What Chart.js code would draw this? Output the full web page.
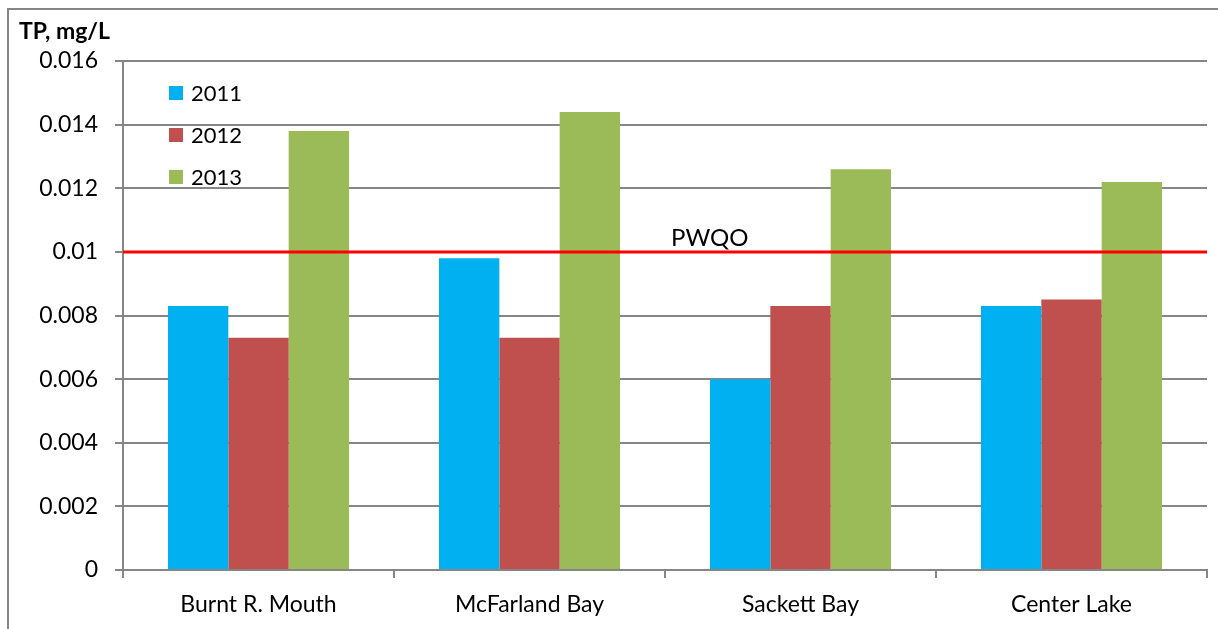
<!DOCTYPE html>
<html lang="en">
<head>
  <meta charset="UTF-8" />
  <title>TP, mg/L</title>
  <script src="https://cdn.jsdelivr.net/npm/chart.js"></script>
  <style>
    html, body {
      margin: 0;
      padding: 0;
      background: #ffffff;
      overflow: hidden;
    }
  </style>
</head>
<body>
  <canvas id="tpChart" width="1218" height="629"></canvas>

  <script>
    // values
    const sites = ["Burnt R. Mouth", "McFarland Bay", "Sackett Bay", "Center Lake"];
    const years = ["2011", "2012", "2013"];
    const tp2011 = [0.0083, 0.0098, 0.0060, 0.0083];
    const tp2012 = [0.0073, 0.0073, 0.0083, 0.0085];
    const tp2013 = [0.0138, 0.0144, 0.0126, 0.0122];
    const yTickLabels = ["0", "0.002", "0.004", "0.006", "0.008", "0.01", "0.012", "0.014", "0.016"];
    const pwqo = 0.01;

    const colors = ["#00B0F0", "#C0504D", "#9BBB59"];
    const gridGrey = "#868686";
    const font = "Lato, 'Open Sans', sans-serif";

    // outer frame, y-axis title, PWQO line and the inside legend
    const extras = {
      id: "extras",
      beforeDraw(chart) {
        const ctx = chart.ctx;
        ctx.save();
        ctx.strokeStyle = gridGrey;
        ctx.lineWidth = 2;
        ctx.beginPath();
        ctx.moveTo(8, 640);
        ctx.lineTo(8, 9);
        ctx.lineTo(1230, 9);
        ctx.stroke();

        ctx.fillStyle = "#000";
        ctx.font = "bold 23px " + font;
        ctx.textBaseline = "middle";
        ctx.textAlign = "left";
        ctx.fillText("TP, mg/L", 19, 32);
        ctx.restore();
      },
      afterDatasetsDraw(chart) {
        const ctx = chart.ctx;
        const area = chart.chartArea;
        const y = chart.scales.y.getPixelForValue(pwqo);
        ctx.save();
        ctx.strokeStyle = "#FF0000";
        ctx.lineWidth = 3;
        ctx.beginPath();
        ctx.moveTo(area.left, y);
        ctx.lineTo(area.right, y);
        ctx.stroke();

        ctx.fillStyle = "#000";
        ctx.font = "24px " + font;
        ctx.textBaseline = "middle";
        ctx.textAlign = "left";
        ctx.fillText("PWQO", 671, y - 14);

        // legend
        ctx.font = "22px " + font;
        years.forEach((yr, i) => {
          const top = area.top + 25 + i * 42;
          ctx.fillStyle = colors[i];
          ctx.fillRect(area.left + 46, top, 14, 14);
          ctx.fillStyle = "#000";
          ctx.fillText(yr, area.left + 68, top + 8);
        });
        ctx.restore();
      }
    };

    new Chart(document.getElementById("tpChart"), {
      type: "bar",
      data: {
        labels: sites,
        datasets: [
          { label: years[0], data: tp2011, backgroundColor: colors[0] },
          { label: years[1], data: tp2012, backgroundColor: colors[1] },
          { label: years[2], data: tp2013, backgroundColor: colors[2] }
        ]
      },
      options: {
        responsive: false,
        animation: false,
        devicePixelRatio: 1,
        layout: { padding: { top: 61, right: 11, left: 0, bottom: 0 } },
        datasets: {
          bar: { categoryPercentage: 0.668, barPercentage: 1.0 }
        },
        plugins: {
          legend: { display: false },
          tooltip: { enabled: false }
        },
        scales: {
          x: {
            afterFit(scale) { scale.height = 59; },
            grid: {
              offset: true,
              drawOnChartArea: false,
              color: gridGrey,
              lineWidth: 2,
              tickLength: 8
            },
            border: { color: gridGrey, width: 2 },
            ticks: {
              color: "#000",
              padding: 13,
              font: { family: font, size: 23 }
            }
          },
          y: {
            min: 0,
            max: 0.016,
            afterFit(scale) { scale.width = 123; },
            ticks: {
              stepSize: 0.002,
              color: "#000",
              padding: 17,
              font: { family: font, size: 23 },
              callback: (v, i) => yTickLabels[i]
            },
            grid: {
              color: gridGrey,
              lineWidth: 2,
              tickLength: 8
            },
            border: { color: gridGrey, width: 2 }
          }
        }
      },
      plugins: [extras]
    });
  </script>
</body>
</html>
